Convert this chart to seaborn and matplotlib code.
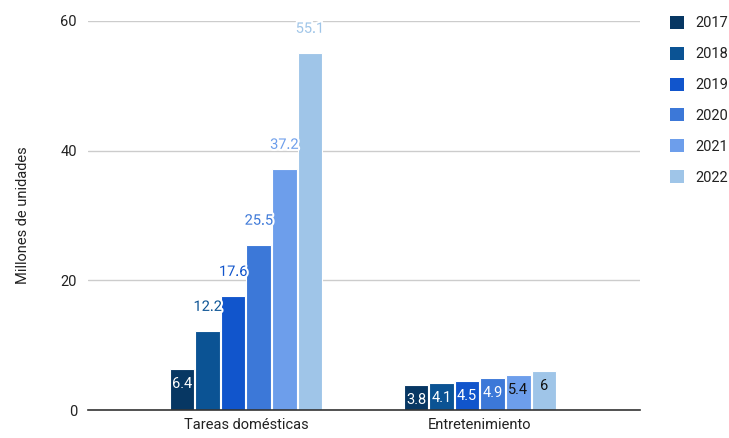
import matplotlib
matplotlib.use("Agg")
import matplotlib.pyplot as plt
import matplotlib.patheffects as pe
from matplotlib.patches import Patch
import seaborn as sns
import pandas as pd

categories = ["Tareas domésticas", "Entretenimiento"]
years = ["2017", "2018", "2019", "2020", "2021", "2022"]
tareas = [6.4, 12.2, 17.6, 25.5, 37.2, 55.1]
entretenimiento = [3.8, 4.1, 4.5, 4.9, 5.4, 6]
colors = ["#073763", "#0b5394", "#1155cc", "#3c78d8", "#6d9eeb", "#9fc5e8"]

rows = []
for cat, vals in zip(categories, [tareas, entretenimiento]):
    for yr, v in zip(years, vals):
        rows.append({"categoria": cat, "anio": yr, "valor": v})
df = pd.DataFrame(rows)

sns.set_theme(style="white")
plt.rcParams["font.family"] = ["Roboto", "DejaVu Sans"]

fig = plt.figure(figsize=(7.29, 4.38), dpi=100)
ax = fig.add_axes([88 / 729, 28 / 438, 552 / 729, 389 / 438])

sns.barplot(data=df, x="categoria", y="valor", hue="anio", order=categories,
            hue_order=years, palette=colors, width=0.655, gap=0.04,
            edgecolor="white", linewidth=0.8, saturation=1, ax=ax, legend=False)

ax.set_xlim(-0.675, 1.684)
ax.set_ylim(0, 60)
ax.set_yticks([0, 20, 40, 60])
ax.yaxis.grid(True, color="#cccccc", linewidth=1)
ax.set_axisbelow(True)
for s in ["top", "right", "left"]:
    ax.spines[s].set_visible(False)
ax.spines["bottom"].set_color("#333333")
ax.spines["bottom"].set_linewidth(1.2)
ax.tick_params(axis="both", length=0, labelsize=10.5, colors="#222222", pad=8)
ax.tick_params(axis="x", pad=6)
ax.set_xlabel("")
ax.set_ylabel("Millones de unidades", fontsize=10.5, color="#222222")
ax.yaxis.set_label_coords(-58 / 552, 0.5)

# value labels: inside the bar when it fits, otherwise above in the bar colour
px_per_unit = 389 / 60
for container, color in zip(ax.containers, colors):
    light = color in ("#6d9eeb", "#9fc5e8")
    for bar in container:
        v = bar.get_height()
        x = bar.get_x() + bar.get_width() / 2
        label = f"{v:g}"
        if v < 10:
            ax.text(x, v - 15 / px_per_unit, label, ha="center", va="center",
                    fontsize=10.5, color="#111111" if light else "white")
        else:
            ax.text(x, v + 24 / px_per_unit, label, ha="center", va="center",
                    fontsize=10.5, color=color, clip_on=False,
                    path_effects=[pe.withStroke(linewidth=3, foreground="white")])

handles = [Patch(facecolor=c, edgecolor="none") for c in colors]
leg = fig.legend(handles, years, loc="upper left", bbox_to_anchor=(664 / 729, 1 - 10 / 438),
                 frameon=False, fontsize=10.5, handlelength=1.0, handleheight=1.0,
                 handletextpad=0.75, labelspacing=1.12, borderaxespad=0)
for t in leg.get_texts():
    t.set_color("#222222")

fig.savefig("out.png", dpi=100)
